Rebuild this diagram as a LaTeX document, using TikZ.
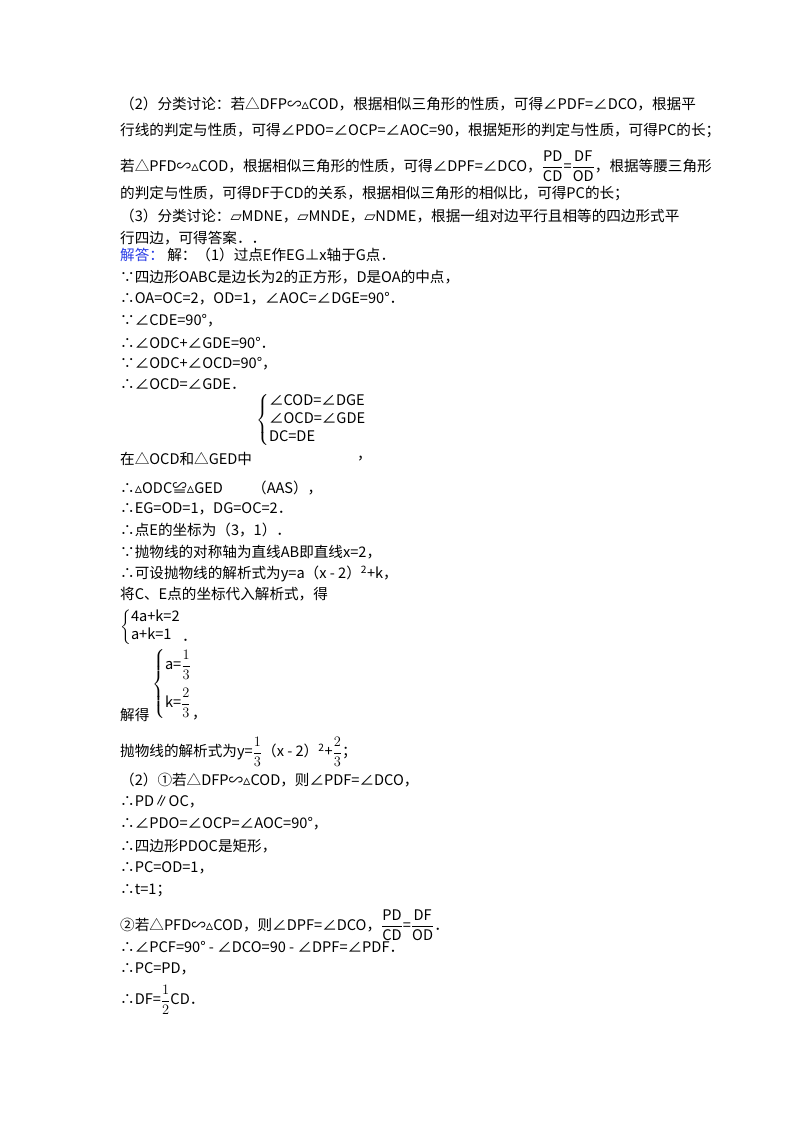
\documentclass[tikz,border=0pt]{standalone}
\usepackage{amsmath}
\usepackage{fontspec}
\setmainfont{Noto Sans CJK SC}
\newfontfamily\dv{DejaVu Sans}
\tikzset{ln/.style={anchor=west,inner sep=0pt,font=\fontsize{14.6}{17}\selectfont}}
\newcommand{\pg}{{\dv\char"25B1}}
\newcommand{\st}{{\dv\char"25B5}}
\newcommand{\fr}[2]{$\dfrac{\mathrm{#1}}{\mathrm{#2}}$}
\begin{document}
\begin{tikzpicture}[x=1pt,y=-1pt]
\useasboundingbox (0,0) rectangle (800,1132);
\fill[white] (0,0) rectangle (800,1132);
\node[ln] (l1) at (120,104) {（2）分类讨论：若△DFP∽\st COD，根据相似三角形的性质，可得∠PDF=∠DCO，根据平};
\node[ln] (l2) at (120,130) {行线的判定与性质，可得∠PDO=∠OCP=∠AOC=90，根据矩形的判定与性质，可得PC的长；};
\node[ln] (l3) at (120,166) {若△PFD∽\st COD，根据相似三角形的性质，可得∠DPF=∠DCO，\fr{PD}{CD}=\fr{DF}{OD}，根据等腰三角形};
\node[ln] (l4) at (120,193) {的判定与性质，可得DF于CD的关系，根据相似三角形的相似比，可得PC的长；};
\node[ln] (l5) at (120,216) {（3）分类讨论：\pg MDNE，\pg MNDE，\pg NDME，根据一组对边平行且相等的四边形式平};
\node[ln] (l6) at (120,238) {行四边，可得答案．．};
\node[ln] (l7) at (120,255) {\textcolor[RGB]{40,60,230}{解答：}\ 解：（1）过点E作EG⊥x轴于G点．};
\node[ln] (l8) at (120,277) {∵四边形OABC是边长为2的正方形，D是OA的中点，};
\node[ln] (l9) at (120,299) {∴OA=OC=2，OD=1，∠AOC=∠DGE=90°．};
\node[ln] (l10) at (120,321) {∵∠CDE=90°，};
\node[ln] (l11) at (120,343) {∴∠ODC+∠GDE=90°．};
\node[ln] (l12) at (120,364) {∵∠ODC+∠OCD=90°，};
\node[ln] (l13) at (120,384) {∴∠OCD=∠GDE．};
\node[ln] (s1) at (256,420) {$\left\{\begin{array}{@{}l@{}}\text{∠COD=∠DGE}\\[1pt]\text{∠OCD=∠GDE}\\[1pt]\text{DC=DE}\end{array}\right.$};
\node[ln] (l14) at (120,459) {在△OCD和△GED中};
\node[ln] (c1) at (357,459) {，};
\node[ln] (l15) at (120,488) {∴\st ODC≌\st GED\qquad（AAS），};
\node[ln] (l16) at (120,509) {∴EG=OD=1，DG=OC=2．};
\node[ln] (l17) at (120,530) {∴点E的坐标为（3，1）．};
\node[ln] (l18) at (120,552) {∵抛物线的对称轴为直线AB即直线x=2，};
\node[ln] (l19) at (120,574) {∴可设抛物线的解析式为y=a（x - 2）\textsuperscript{2}+k，};
\node[ln] (l20) at (120,594) {将C、E点的坐标代入解析式，得};
\node[ln] (s2) at (120,627) {$\left\{\begin{array}{@{}l@{}}\text{4a+k=2}\\[1pt]\text{a+k=1}\end{array}\right.$};
\node[ln] (p2) at (182,640) {．};
\node[ln] (l21) at (120,715) {解得};
\node[ln] (s3) at (152,684) {$\left\{\begin{array}{@{}l@{}}\text{a=}\dfrac{1}{3}\\[14pt]\text{k=}\dfrac{2}{3}\end{array}\right.$};
\node[ln] (p3) at (192,718) {，};
\node[ln] (l22) at (120,752) {抛物线的解析式为y=$\dfrac{1}{3}$（x - 2）\textsuperscript{2}+$\dfrac{2}{3}$；};
\node[ln] (l23) at (120,780) {（2）①若△DFP∽\st COD，则∠PDF=∠DCO，};
\node[ln] (l24) at (120,802) {∴PD∥OC，};
\node[ln] (l25) at (120,824) {∴∠PDO=∠OCP=∠AOC=90°，};
\node[ln] (l26) at (120,846) {∴四边形PDOC是矩形，};
\node[ln] (l27) at (120,868) {∴PC=OD=1，};
\node[ln] (l28) at (120,890) {∴t=1；};
\node[ln] (l29) at (120,925) {②若△PFD∽\st COD，则∠DPF=∠DCO，\fr{PD}{CD}=\fr{DF}{OD}．};
\node[ln] (l30) at (120,947) {∴∠PCF=90° - ∠DCO=90 - ∠DPF=∠PDF．};
\node[ln] (l31) at (120,969) {∴PC=PD，};
\node[ln] (l32) at (120,1000) {∴DF=$\dfrac{1}{2}$CD．};
\end{tikzpicture}
\end{document}
